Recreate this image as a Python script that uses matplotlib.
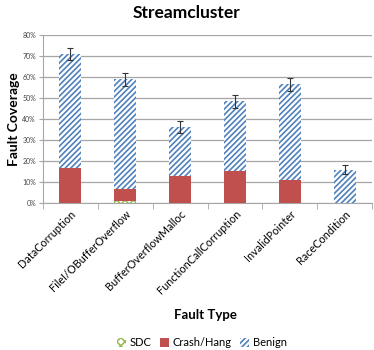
import numpy as np
import matplotlib.pyplot as plt
import matplotlib as mpl

plt.rcParams['font.family'] = ['Lato', 'DejaVu Sans']
mpl.rcParams['hatch.linewidth'] = 1.2

categories = ['DataCorruption', 'FileI/OBufferOverflow', 'BufferOverflowMalloc',
              'FunctionCallCorruption', 'InvalidPointer', 'RaceCondition']
sdc = [0.0, 1.0, 0.0, 0.0, 0.0, 0.0]
crash = [16.7, 5.4, 12.9, 15.3, 10.7, 0.0]
total = [71.0, 59.0, 36.0, 48.4, 56.5, 15.7]
err = [3.0, 3.1, 3.0, 3.2, 3.2, 2.2]

sdc = np.array(sdc) / 100
crash = np.array(crash) / 100
total = np.array(total) / 100
err = np.array(err) / 100
benign = total - crash - sdc

fig = plt.figure(figsize=(3.74, 3.5), dpi=100)
ax = fig.add_axes([0.115, 0.421, 0.88, 0.479])

x = np.arange(len(categories))
w = 0.4
ax.bar(x, sdc, w, color='white', edgecolor='#9BBB59', hatch='xxxx', linewidth=0, label='SDC', zorder=3)
ax.bar(x, crash, w, bottom=sdc, color='#C0504D', linewidth=0, label='Crash/Hang', zorder=3)
ax.bar(x, benign, w, bottom=sdc + crash, color='white', edgecolor='#4F81BD', hatch='//////',
       linewidth=0, label='Benign', zorder=3)
ax.errorbar(x, total, yerr=err, fmt='none', ecolor='#333333', elinewidth=0.8, capsize=2, capthick=0.8, zorder=4)

ax.set_xlim(-0.5, len(categories) - 0.5)
ax.set_ylim(0, 0.8)
ax.set_yticks(np.arange(0, 0.81, 0.1))
ax.set_yticklabels(['%d%%' % v for v in range(0, 81, 10)], fontsize=5, color='#444444')
ax.yaxis.grid(True, color='#A6A6A6', linewidth=0.9, zorder=0)
ax.set_axisbelow(True)

ax.set_xticks(x)
ax.set_xticklabels(categories, rotation=45, ha='right', rotation_mode='anchor', fontsize=7.8)
ax.tick_params(axis='x', length=0, pad=4)
ax.set_xticks(np.arange(-0.5, len(categories), 1), minor=True)
ax.tick_params(axis='x', which='minor', length=4, color='#A6A6A6')
ax.tick_params(axis='y', length=3, color='#A6A6A6', pad=2)

for s in ['top', 'right']:
    ax.spines[s].set_visible(False)
for s in ['left', 'bottom']:
    ax.spines[s].set_color('#A6A6A6')

ax.set_ylabel('Fault Coverage', fontsize=10, fontweight='bold', labelpad=2)
fig.text(0.55, 0.088, 'Fault Type', ha='center', fontsize=9.5, fontweight='bold')
fig.suptitle('Streamcluster', y=0.985, fontsize=12.5, fontweight='bold')

fig.legend(loc='center', bbox_to_anchor=(0.54, 0.02), ncol=3, frameon=False, fontsize=8,
           handlelength=0.8, handleheight=0.8, handletextpad=0.3, columnspacing=0.8)

fig.savefig('out.png', dpi=100)
